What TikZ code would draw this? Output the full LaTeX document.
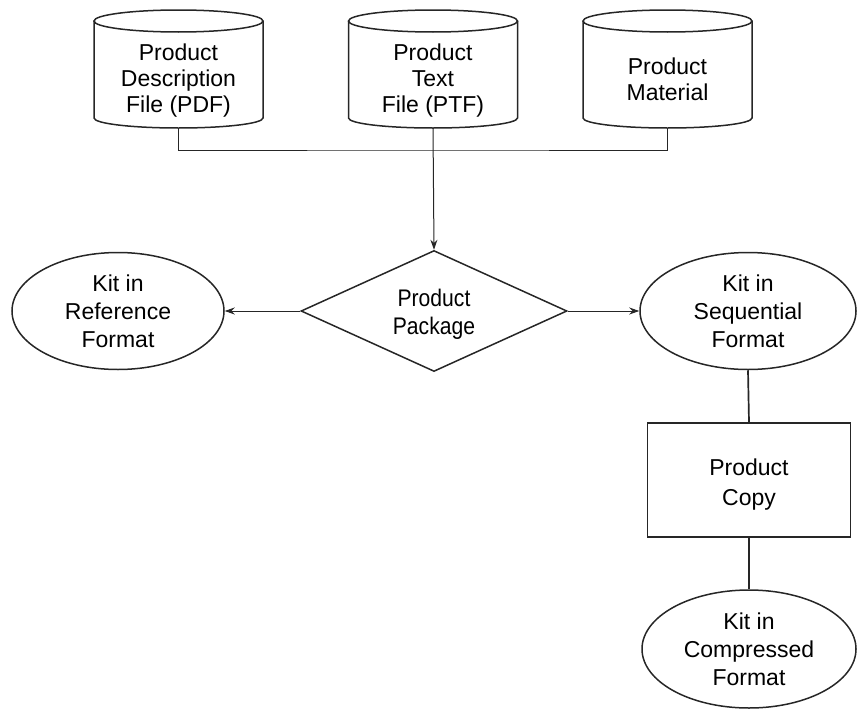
\documentclass[tikz,border=0pt]{standalone}
\usepackage{fontspec}
\setmainfont{Liberation Sans}
\newfontfamily\narrowfont[FakeStretch=0.88]{Liberation Sans}
\usetikzlibrary{shapes.geometric,arrows.meta}
\begin{document}
\begin{tikzpicture}[x=1pt,y=-1pt,
  shapeline/.style={line width=1.5pt, draw=black!85},
  thinline/.style={line width=1pt, draw=black!85},
  thickline/.style={line width=1.7pt, draw=black!85},
  txt/.style={align=center, font=\fontsize{23}{26}\selectfont, inner sep=0pt},
  ovalbox/.style={shapeline, ellipse, inner sep=0pt, align=center, font=\fontsize{23}{28}\selectfont},
  arr/.style={thinline, -{Stealth[length=10pt,width=7pt]}}
]
\useasboundingbox (0,0) rectangle (859,712);

% cylinders
\foreach \cx/\nm in {178.5/c1, 433/c2, 667.5/c3}{
  \draw[shapeline] (\cx,21) ellipse [x radius=84.5, y radius=11];
  \draw[shapeline] (\cx-84.5,21) -- (\cx-84.5,118)
     arc[start angle=180, end angle=0, x radius=84.5, y radius=10]
     -- (\cx+84.5,21);
  \coordinate (\nm b) at (\cx,128);
}
\node[txt] (c1) at (178.5,81) {Product\\Description\\File (PDF)};
\node[txt] (c2) at (433,81) {Product\\Text\\File (PTF)};
\node[txt] (c3) at (667.5,79) {Product\\Material};

% diamond
\node[shapeline, diamond, aspect=2.2, minimum width=266pt, minimum height=121pt, inner sep=0pt,
      align=center, font=\narrowfont\fontsize{24}{28}\selectfont] (pkg) at (434,311) {};
\node[txt, font=\narrowfont\fontsize{24}{28}\selectfont] (pkgt) at (434,314) {Product\\Package};

% ellipses
\node[ovalbox, minimum width=212pt, minimum height=117pt] (ref) at (118,311) {Kit in\\Reference\\Format};
\node[ovalbox, minimum width=216pt, minimum height=117pt] (seq) at (748,311) {Kit in\\Sequential\\Format};
\node[shapeline, draw, rectangle, minimum width=203pt, minimum height=114pt] (copy) at (749,480) {};
\node[txt, font=\fontsize{23}{30}\selectfont] (copyt) at (749,485) {Product\\Copy};
\node[ovalbox, minimum width=214pt, minimum height=118pt] (comp) at (749,649) {Kit in\\Compressed\\Format};

% connectors
\coordinate (j) at (433,150);
\draw[thinline] (c1b) |- (j) -| (c3b);
\draw[arr] (c2b) -- (pkg.north);
\draw[arr] (pkg.west) -- (ref.east);
\draw[arr] (pkg.east) -- (seq.west);
\draw[thickline] (seq.south) -- (copy.north);
\draw[thickline] (copy.south) -- (comp.north);
\end{tikzpicture}
\end{document}
